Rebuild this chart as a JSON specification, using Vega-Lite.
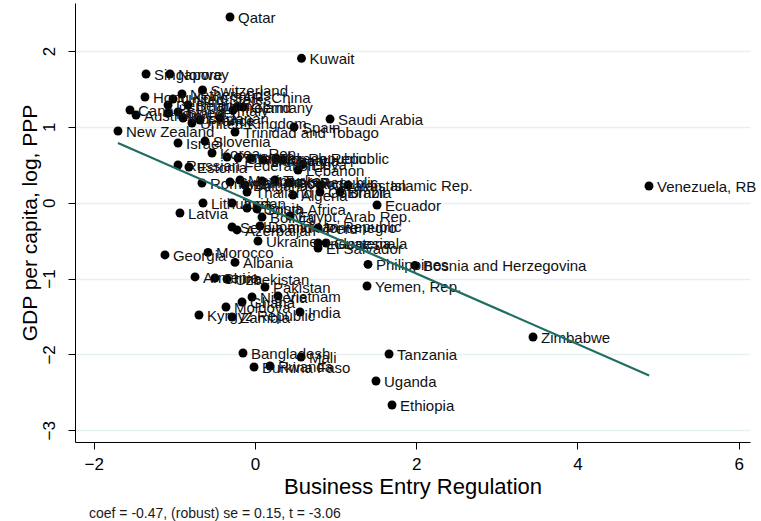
{
  "$schema": "https://vega.github.io/schema/vega-lite/v6.json",
  "width": 675,
  "height": 439,
  "autosize": {"type": "none"},
  "padding": {"left": 75, "top": 3, "right": 11, "bottom": 79},
  "background": "white",
  "config": {
    "view": {"stroke": null},
    "font": "Liberation Sans"
  },
  "title": {
    "text": "coef = -0.47, (robust) se = 0.15, t = -3.06",
    "orient": "bottom",
    "anchor": "start",
    "font": "Liberation Sans",
    "fontSize": 14,
    "fontWeight": "normal",
    "color": "#1a1a1a",
    "offset": 10,
    "dx": 70
  },
  "datasets": {
    "countries": [
      {"country": "Qatar", "regulation": -0.31, "gdp": 2.448},
      {"country": "Kuwait", "regulation": 0.577, "gdp": 1.904},
      {"country": "Singapore", "regulation": -1.352, "gdp": 1.697},
      {"country": "Norway", "regulation": -1.055, "gdp": 1.697},
      {"country": "Switzerland", "regulation": -0.651, "gdp": 1.486},
      {"country": "Hong Kong SAR, China", "regulation": -1.365, "gdp": 1.394},
      {"country": "Netherlands", "regulation": -0.906, "gdp": 1.433},
      {"country": "United States", "regulation": -1.017, "gdp": 1.367},
      {"country": "Denmark", "regulation": -1.079, "gdp": 1.288},
      {"country": "Belgium", "regulation": -0.831, "gdp": 1.288},
      {"country": "Canada", "regulation": -1.551, "gdp": 1.222},
      {"country": "Australia", "regulation": -1.476, "gdp": 1.156},
      {"country": "Sweden", "regulation": -0.955, "gdp": 1.196},
      {"country": "Finland", "regulation": -1.079, "gdp": 1.183},
      {"country": "Austria", "regulation": -0.893, "gdp": 1.117},
      {"country": "United Kingdom", "regulation": -0.782, "gdp": 1.051},
      {"country": "France", "regulation": -0.682, "gdp": 1.09},
      {"country": "Japan", "regulation": -0.434, "gdp": 1.117},
      {"country": "Italy", "regulation": -0.273, "gdp": 1.222},
      {"country": "Ireland", "regulation": -0.223, "gdp": 1.262},
      {"country": "Germany", "regulation": -0.149, "gdp": 1.262},
      {"country": "New Zealand", "regulation": -1.7, "gdp": 0.945},
      {"country": "Saudi Arabia", "regulation": 0.931, "gdp": 1.103},
      {"country": "Spain", "regulation": 0.484, "gdp": 0.998},
      {"country": "Trinidad and Tobago", "regulation": -0.248, "gdp": 0.932},
      {"country": "Israel", "regulation": -0.955, "gdp": 0.787},
      {"country": "Slovenia", "regulation": -0.62, "gdp": 0.813},
      {"country": "Korea, Rep.", "regulation": -0.533, "gdp": 0.655},
      {"country": "Portugal", "regulation": -0.347, "gdp": 0.602},
      {"country": "Greece", "regulation": -0.211, "gdp": 0.589},
      {"country": "Slovak Republic", "regulation": -0.05, "gdp": 0.589},
      {"country": "Hungary", "regulation": 0.099, "gdp": 0.563},
      {"country": "Czech Republic", "regulation": 0.261, "gdp": 0.589},
      {"country": "Croatia", "regulation": 0.347, "gdp": 0.563},
      {"country": "Libya", "regulation": 0.596, "gdp": 0.511},
      {"country": "Russian Federation", "regulation": -0.955, "gdp": 0.497},
      {"country": "Estonia", "regulation": -0.819, "gdp": 0.471},
      {"country": "Lebanon", "regulation": 0.533, "gdp": 0.431},
      {"country": "Romania", "regulation": -0.658, "gdp": 0.26},
      {"country": "Syrian Arab Republic", "regulation": -0.31, "gdp": 0.273},
      {"country": "Mexico", "regulation": -0.186, "gdp": 0.299},
      {"country": "Bulgaria", "regulation": -0.124, "gdp": 0.233},
      {"country": "Malaysia", "regulation": 0.087, "gdp": 0.286},
      {"country": "Turkey", "regulation": 0.248, "gdp": 0.299},
      {"country": "Poland", "regulation": 0.422, "gdp": 0.26},
      {"country": "Kazakhstan", "regulation": 0.806, "gdp": 0.233},
      {"country": "Iran, Islamic Rep.", "regulation": 1.154, "gdp": 0.233},
      {"country": "Thailand", "regulation": -0.099, "gdp": 0.141},
      {"country": "Algeria", "regulation": 0.471, "gdp": 0.102},
      {"country": "Colombia", "regulation": 0.806, "gdp": 0.141},
      {"country": "Brazil", "regulation": 1.055, "gdp": 0.141},
      {"country": "Lithuania", "regulation": -0.645, "gdp": -0.004},
      {"country": "Jordan", "regulation": -0.285, "gdp": -0.004},
      {"country": "Tunisia", "regulation": -0.099, "gdp": -0.07},
      {"country": "South Africa", "regulation": 0.025, "gdp": -0.083},
      {"country": "Latvia", "regulation": -0.931, "gdp": -0.136},
      {"country": "Ecuador", "regulation": 1.514, "gdp": -0.03},
      {"country": "Bolivia", "regulation": 0.087, "gdp": -0.189},
      {"country": "Egypt, Arab Rep.", "regulation": 0.434, "gdp": -0.175},
      {"country": "Serbia and Montenegro", "regulation": -0.285, "gdp": -0.32},
      {"country": "Azerbaijan", "regulation": -0.223, "gdp": -0.359},
      {"country": "Dominican Republic", "regulation": 0.062, "gdp": -0.307},
      {"country": "Peru", "regulation": 0.782, "gdp": -0.333},
      {"country": "Ukraine", "regulation": 0.037, "gdp": -0.505},
      {"country": "Indonesia", "regulation": 0.782, "gdp": -0.531},
      {"country": "Guatemala", "regulation": 0.881, "gdp": -0.531},
      {"country": "El Salvador", "regulation": 0.782, "gdp": -0.597},
      {"country": "Georgia", "regulation": -1.117, "gdp": -0.689},
      {"country": "Morocco", "regulation": -0.583, "gdp": -0.655},
      {"country": "Albania", "regulation": -0.248, "gdp": -0.787},
      {"country": "Philippines", "regulation": 1.402, "gdp": -0.813},
      {"country": "Bosnia and Herzegovina", "regulation": 1.985, "gdp": -0.827},
      {"country": "Armenia", "regulation": -0.744, "gdp": -0.979},
      {"country": "China", "regulation": -0.496, "gdp": -0.993},
      {"country": "Uzbekistan", "regulation": -0.347, "gdp": -1.006},
      {"country": "Yemen, Rep.", "regulation": 1.39, "gdp": -1.098},
      {"country": "Pakistan", "regulation": 0.124, "gdp": -1.111},
      {"country": "Nigeria", "regulation": -0.037, "gdp": -1.243},
      {"country": "Vietnam", "regulation": 0.285, "gdp": -1.23},
      {"country": "Ghana", "regulation": -0.161, "gdp": -1.309},
      {"country": "Moldova", "regulation": -0.36, "gdp": -1.375},
      {"country": "India", "regulation": 0.558, "gdp": -1.441},
      {"country": "Kyrgyz Republic", "regulation": -0.695, "gdp": -1.481},
      {"country": "Zambia", "regulation": -0.285, "gdp": -1.507},
      {"country": "Bangladesh", "regulation": -0.149, "gdp": -1.982},
      {"country": "Mali", "regulation": 0.571, "gdp": -2.034},
      {"country": "Burkina Faso", "regulation": -0.012, "gdp": -2.166},
      {"country": "Rwanda", "regulation": 0.186, "gdp": -2.153},
      {"country": "Tanzania", "regulation": 1.663, "gdp": -1.995},
      {"country": "Uganda", "regulation": 1.501, "gdp": -2.351},
      {"country": "Ethiopia", "regulation": 1.7, "gdp": -2.667},
      {"country": "Zimbabwe", "regulation": 3.449, "gdp": -1.771},
      {"country": "Venezuela, RB", "regulation": 4.888, "gdp": 0.22}
    ],
    "fit": [
      {"regulation": -1.7, "gdp": 0.787},
      {"regulation": 4.89, "gdp": -2.277}
    ]
  },
  "encoding": {
    "x": {
      "field": "regulation",
      "type": "quantitative",
      "scale": {"domain": [-2.233, 6.141], "nice": false, "zero": false},
      "axis": {
        "title": "Business Entry Regulation",
        "values": [-2, 0, 2, 4, 6],
        "grid": false,
        "domainColor": "black",
        "domainWidth": 1,
        "tickColor": "black",
        "tickSize": 7,
        "labelFont": "Liberation Sans",
        "labelFontSize": 17,
        "labelColor": "black",
        "labelPadding": 7,
        "titleFont": "Liberation Sans",
        "titleFontSize": 22,
        "titleFontWeight": "normal",
        "titleColor": "black",
        "titlePadding": 4
      }
    },
    "y": {
      "field": "gdp",
      "type": "quantitative",
      "scale": {"domain": [-3.155, 2.633], "nice": false, "zero": false},
      "axis": {
        "title": "GDP per capita, log, PPP",
        "values": [-3, -2, -1, 0, 1, 2],
        "grid": true,
        "gridColor": "#e6eff2",
        "gridWidth": 1.6,
        "domainColor": "black",
        "domainWidth": 1,
        "tickColor": "black",
        "tickSize": 7,
        "labelAngle": -90,
        "labelAlign": "center",
        "labelBaseline": "bottom",
        "labelFont": "Liberation Sans",
        "labelFontSize": 17,
        "labelColor": "black",
        "labelPadding": 10,
        "titleFont": "Liberation Sans",
        "titleFontSize": 21,
        "titleFontWeight": "normal",
        "titleColor": "black",
        "titlePadding": 0
      }
    }
  },
  "layer": [
    {
      "data": {"name": "countries"},
      "mark": {"type": "point", "filled": true, "size": 80, "color": "black", "opacity": 1}
    },
    {
      "data": {"name": "countries"},
      "mark": {
        "type": "text",
        "align": "left",
        "baseline": "middle",
        "dx": 8,
        "dy": 1,
        "font": "Liberation Sans",
        "fontSize": 15,
        "color": "#111111"
      },
      "encoding": {"text": {"field": "country", "type": "nominal"}}
    },
    {
      "data": {"name": "fit"},
      "mark": {"type": "line", "color": "#1f6e64", "strokeWidth": 2.2},
      "encoding": {}
    }
  ]
}
